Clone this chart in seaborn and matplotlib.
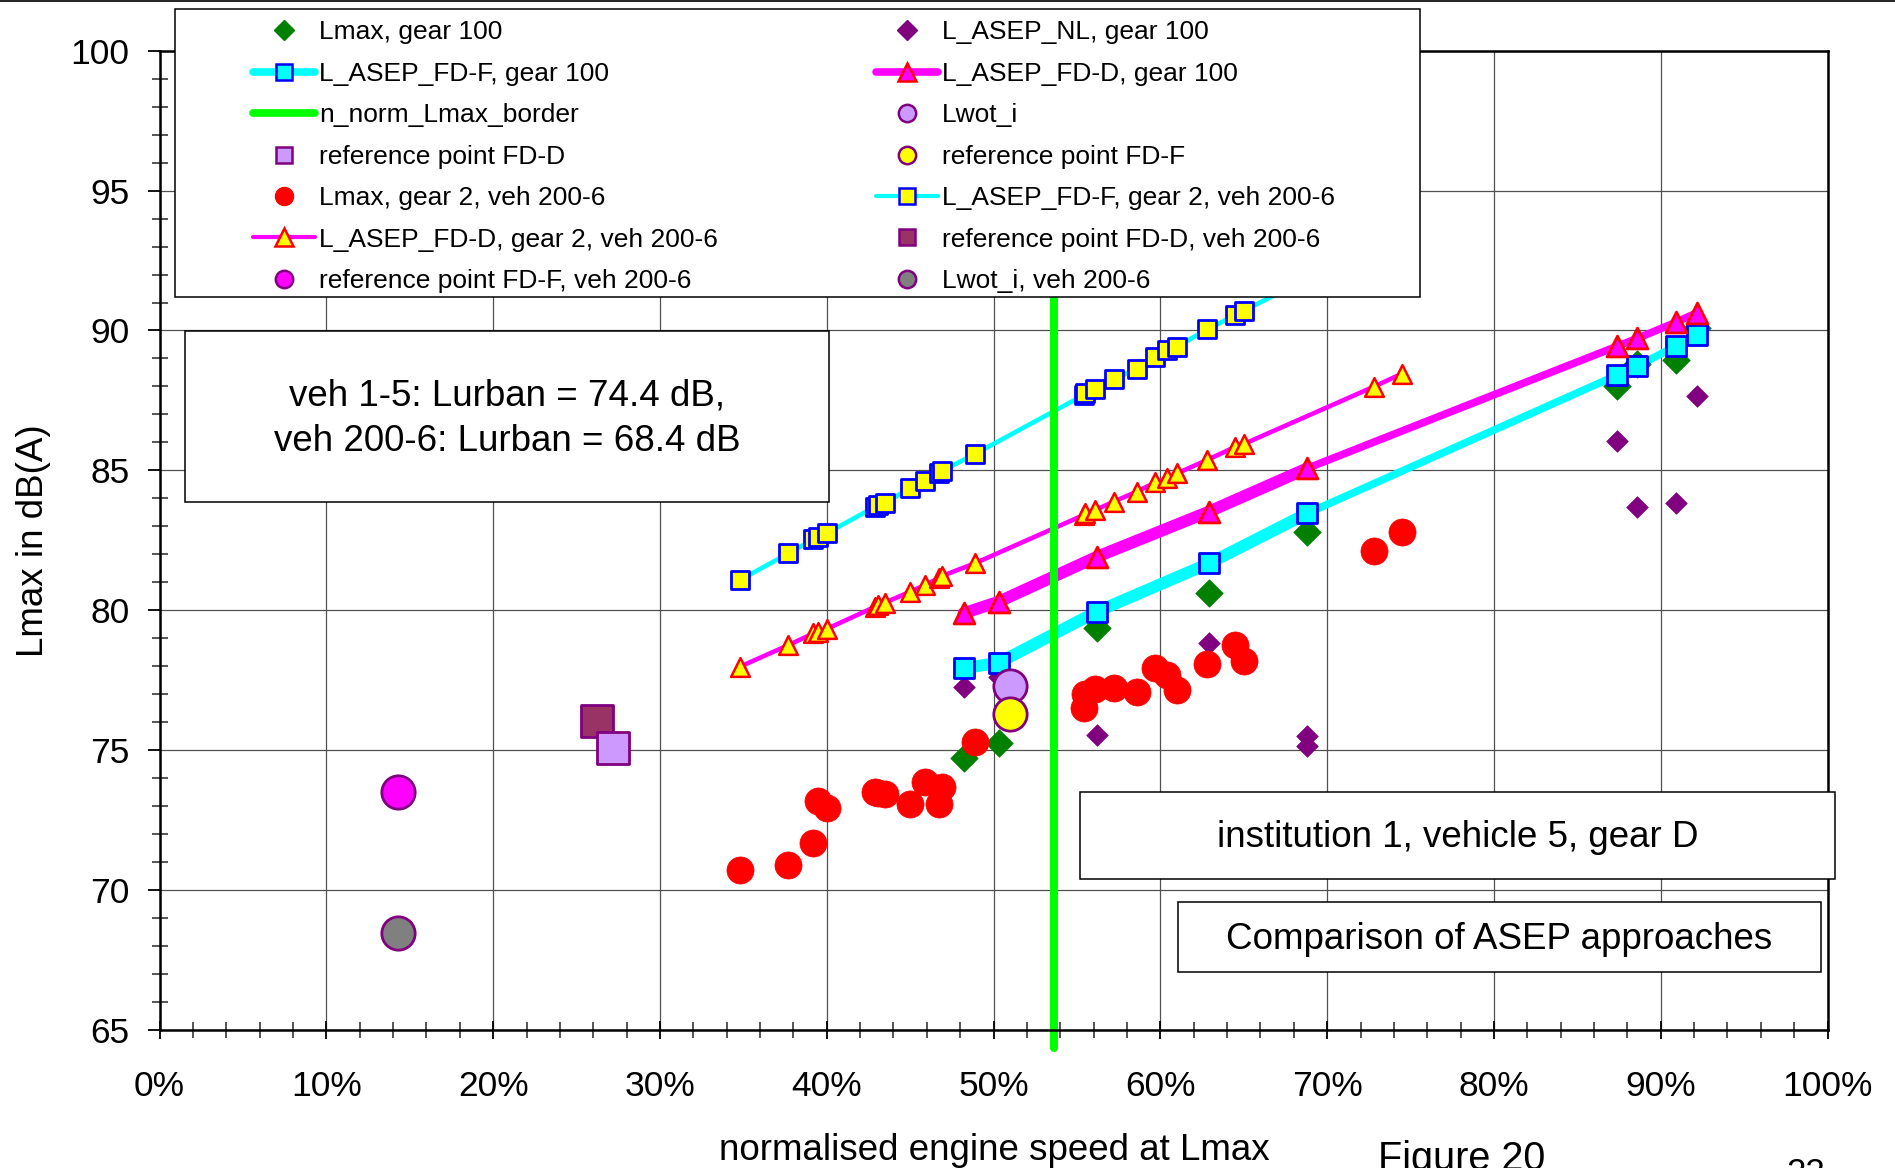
import matplotlib
matplotlib.use("Agg")
import matplotlib.pyplot as plt
import seaborn as sns
from matplotlib.lines import Line2D
from matplotlib.patches import Rectangle
from matplotlib.ticker import MultipleLocator, FuncFormatter

# ---------------- data ----------------
gear100_x = [48.2, 50.3, 56.2, 62.9, 68.8, 87.4, 88.6, 90.9, 92.2]
lmax_gear100 = [74.70, 75.25, 79.35, 80.60, 82.80, 88.00, 88.80, 88.95, 90.10]
asep_fdf_gear100 = [77.92, 78.12, 79.95, 81.67, 83.46, 88.41, 88.73, 89.44, 89.84]
asep_fdd_gear100 = [79.89, 80.30, 81.91, 83.52, 85.07, 89.44, 89.72, 90.29, 90.64]

nl_x = [48.2, 50.3, 56.2, 62.9, 68.8, 68.8, 87.4, 88.6, 90.9, 92.2]
asep_nl_gear100 = [77.26, 77.62, 75.54, 78.81, 75.50, 75.15, 86.06, 83.70, 83.82, 87.66]

n_norm_lmax_border = 53.6

lwot_i = (51.0, 77.29)
ref_fdd = (27.2, 75.09)
ref_fdf = (51.0, 76.29)

veh200_x = [34.8, 37.7, 39.2, 39.5, 40.0, 42.9, 43.1, 43.5, 45.0, 45.9, 46.7, 46.9, 48.9,
            55.4, 55.5, 56.1, 57.2, 58.6, 59.7, 60.4, 61.0, 62.8, 64.5, 65.0, 72.8, 74.5]
lmax_veh200 = [70.70, 70.88, 71.66, 73.17, 72.91, 73.51, 73.45, 73.42, 73.08, 73.86, 73.08, 73.68, 75.28,
               76.49, 77.01, 77.18, 77.23, 77.06, 77.92, 77.70, 77.14, 78.09, 78.74, 78.18, 82.11, 82.80]
asep_fdf_veh200 = [81.08, 82.03, 82.53, 82.63, 82.75, 83.70, 83.75, 83.84, 84.36, 84.63, 84.89, 84.97, 85.59,
                   87.69, 87.75, 87.90, 88.25, 88.64, 89.04, 89.30, 89.42, 90.04, 90.55, 90.70, 93.10, 93.60]
asep_fdd_veh200 = [77.98, 78.75, 79.17, 79.23, 79.33, 80.12, 80.18, 80.27, 80.66, 80.90, 81.14, 81.22, 81.68,
                   83.40, 83.46, 83.58, 83.88, 84.24, 84.57, 84.71, 84.89, 85.37, 85.84, 85.94, 87.99, 88.46]

ref_fdd_veh200 = (26.2, 76.05)
ref_fdf_veh200 = (14.3, 73.49)
lwot_i_veh200 = (14.3, 68.47)

legend_labels = [
    "Lmax, gear 100", "L_ASEP_NL, gear 100",
    "L_ASEP_FD-F, gear 100", "L_ASEP_FD-D, gear 100",
    "n_norm_Lmax_border", "Lwot_i",
    "reference point FD-D", "reference point FD-F",
    "Lmax, gear 2, veh 200-6", "L_ASEP_FD-F, gear 2, veh 200-6",
    "L_ASEP_FD-D, gear 2, veh 200-6", "reference point FD-D, veh 200-6",
    "reference point FD-F, veh 200-6", "Lwot_i, veh 200-6",
]

x_ticks = list(range(0, 101, 10))
y_ticks = list(range(65, 101, 5))

# ---------------- style ----------------
sns.set_theme(style="ticks")
plt.rcParams['font.family'] = ['Liberation Sans', 'DejaVu Sans']

CYAN, MAGENTA, BLUE, RED = '#00FFFF', '#FF00FF', '#0000FF', '#FF0000'
YELLOW, GREEN, PURPLE = '#FFFF00', '#008000', '#800080'
LAVENDER, MAROON, GRAY, LIME = '#CC99FF', '#993366', '#808080', '#00FF00'

fig = plt.figure(figsize=(18.95, 11.68), dpi=100)
ax = fig.add_axes([0.0842, 0.1184, 0.8802, 0.8381])

# lines
sns.lineplot(x=gear100_x[:5], y=asep_fdf_gear100[:5], ax=ax, color=CYAN, linewidth=8.6,
             sort=False, estimator=None, errorbar=None, legend=False, zorder=2)
sns.lineplot(x=gear100_x[4:], y=asep_fdf_gear100[4:], ax=ax, color=CYAN, linewidth=5.5,
             sort=False, estimator=None, errorbar=None, legend=False, zorder=2)
sns.lineplot(x=gear100_x[:5], y=asep_fdd_gear100[:5], ax=ax, color=MAGENTA, linewidth=8.6,
             sort=False, estimator=None, errorbar=None, legend=False, zorder=2)
sns.lineplot(x=gear100_x[4:], y=asep_fdd_gear100[4:], ax=ax, color=MAGENTA, linewidth=5.5,
             sort=False, estimator=None, errorbar=None, legend=False, zorder=2)
sns.lineplot(x=veh200_x, y=asep_fdf_veh200, ax=ax, color=CYAN, linewidth=3.3,
             sort=False, estimator=None, errorbar=None, legend=False, zorder=2)
sns.lineplot(x=veh200_x, y=asep_fdd_veh200, ax=ax, color=MAGENTA, linewidth=3.3,
             sort=False, estimator=None, errorbar=None, legend=False, zorder=2)

ax.axvline(n_norm_lmax_border, ymin=-0.0187, ymax=1, color=LIME, lw=5.8, clip_on=False, zorder=2.5)

def pts(x, y, marker, ms, fc, ec, ew, z):
    sns.scatterplot(x=x, y=y, ax=ax, marker=marker, s=ms ** 2, color=fc, edgecolor=ec,
                    linewidth=ew, legend=False, zorder=z, clip_on=False)

pts(gear100_x, lmax_gear100, 'D', 14, GREEN, GREEN, 0.5, 3.0)
pts(nl_x, asep_nl_gear100, 'D', 11, PURPLE, PURPLE, 0.5, 3.1)
pts(gear100_x, asep_fdf_gear100, 's', 14.5, CYAN, BLUE, 2.0, 3.2)
pts(gear100_x, asep_fdd_gear100, '^', 15, MAGENTA, RED, 2.0, 3.3)
pts([lwot_i[0]], [lwot_i[1]], 'o', 24, LAVENDER, PURPLE, 2.0, 3.4)
pts([ref_fdd_veh200[0]], [ref_fdd_veh200[1]], 's', 23, MAROON, PURPLE, 2.0, 3.45)
pts([ref_fdd[0]], [ref_fdd[1]], 's', 23, LAVENDER, PURPLE, 2.0, 3.5)
pts([ref_fdf[0]], [ref_fdf[1]], 'o', 24, YELLOW, PURPLE, 2.0, 3.6)
pts(veh200_x, lmax_veh200, 'o', 19.5, RED, RED, 0.5, 3.7)
pts(veh200_x, asep_fdf_veh200, 's', 13, YELLOW, BLUE, 2.0, 3.8)
pts(veh200_x, asep_fdd_veh200, '^', 13.5, YELLOW, RED, 1.8, 3.9)
pts([ref_fdf_veh200[0]], [ref_fdf_veh200[1]], 'o', 24, MAGENTA, PURPLE, 2.0, 4.0)
pts([lwot_i_veh200[0]], [lwot_i_veh200[1]], 'o', 24, GRAY, PURPLE, 2.0, 4.1)

# axes
ax.set_xlim(0, 100)
ax.set_ylim(65, 100)
ax.set_xticks(x_ticks)
ax.set_yticks(y_ticks)
ax.xaxis.set_minor_locator(MultipleLocator(2))
ax.yaxis.set_minor_locator(MultipleLocator(1))
ax.xaxis.set_major_formatter(FuncFormatter(lambda v, p: f"{v:.0f}%"))
ax.set_axisbelow(True)
ax.grid(True, which='major', color='#505050', lw=0.9)
ax.grid(False, which='minor')
for s in ax.spines.values():
    s.set_visible(True)
    s.set_color('black')
    s.set_linewidth(1.8)
ax.set_facecolor('white')

ax.tick_params(axis='x', which='major', direction='inout', length=13, width=1.3, pad=22.5,
               labelsize=25.5, colors='black', bottom=True, top=False)
ax.tick_params(axis='x', which='minor', direction='inout', length=12, width=1.1, bottom=True, top=False)
ax.tick_params(axis='y', which='major', direction='out', length=8.6, width=1.3, pad=13,
               labelsize=25.5, colors='black', left=True, right=False)
ax.tick_params(axis='y', which='minor', direction='inout', length=11.5, width=1.1, left=True, right=False)

ax.set_xlabel("normalised engine speed at Lmax", fontsize=26.5, color='black')
ax.set_ylabel("Lmax in dB(A)", fontsize=26.5, color='black')
ax.xaxis.set_label_coords(0.5007, -0.1052)
ax.yaxis.set_label_coords(-0.0652, 0.5)

# text boxes (figure coordinates)
def box(x0, y0, w, h, text, fs, ls=1.2, dy=0.0):
    fig.add_artist(Rectangle((x0, y0), w, h, transform=fig.transFigure, facecolor='white',
                             edgecolor='black', lw=1.1, zorder=4))
    fig.text(x0 + w / 2, y0 + h / 2 + dy, text, ha='center', va='center', fontsize=fs,
             linespacing=ls, zorder=4.5, color='black')

box(0.0974, 0.5702, 0.3401, 0.1464,
    "veh 1-5: Lurban = 74.4 dB,\nveh 200-6: Lurban = 68.4 dB", 26.5, ls=1.36, dy=-0.002)
box(0.5699, 0.2474, 0.3984, 0.0747, "institution 1, vehicle 5, gear D", 26.5, dy=-0.002)
box(0.6215, 0.1681, 0.3393, 0.0594, "Comparison of ASEP approaches", 26.5, dy=-0.0025)

# legend
handles = [
    Line2D([], [], ls='none', marker='D', ms=10.5, mfc=GREEN, mec=GREEN),
    Line2D([], [], ls='none', marker='D', ms=10.5, mfc=PURPLE, mec=PURPLE),
    Line2D([], [], color=CYAN, lw=5.5, marker='s', ms=11.5, mfc=CYAN, mec=BLUE, mew=1.8),
    Line2D([], [], color=MAGENTA, lw=5.5, marker='^', ms=13, mfc=MAGENTA, mec=RED, mew=1.8),
    Line2D([], [], color=LIME, lw=5.5),
    Line2D([], [], ls='none', marker='o', ms=12.5, mfc=LAVENDER, mec=PURPLE, mew=1.8),
    Line2D([], [], ls='none', marker='s', ms=11.5, mfc=LAVENDER, mec=PURPLE, mew=1.8),
    Line2D([], [], ls='none', marker='o', ms=12.5, mfc=YELLOW, mec=PURPLE, mew=1.8),
    Line2D([], [], ls='none', marker='o', ms=13, mfc=RED, mec=RED),
    Line2D([], [], color=CYAN, lw=3, marker='s', ms=11.5, mfc=YELLOW, mec=BLUE, mew=1.8),
    Line2D([], [], color=MAGENTA, lw=3, marker='^', ms=13, mfc=YELLOW, mec=RED, mew=1.8),
    Line2D([], [], ls='none', marker='s', ms=11.5, mfc=MAROON, mec=PURPLE, mew=1.8),
    Line2D([], [], ls='none', marker='o', ms=12.5, mfc=MAGENTA, mec=PURPLE, mew=1.8),
    Line2D([], [], ls='none', marker='o', ms=12.5, mfc=GRAY, mec=PURPLE, mew=1.8),
]
order = [0, 2, 4, 6, 8, 10, 12, 1, 3, 5, 7, 9, 11, 13]
fig.add_artist(Rectangle((0.0921, 0.7457), 0.6573, 0.2463, transform=fig.transFigure,
                         facecolor='white', edgecolor='black', lw=1.1, zorder=4))
leg = fig.legend([handles[i] for i in order], [legend_labels[i] for i in order], ncol=2,
                 loc='upper left', bbox_to_anchor=(253 / 1895, 1 - 20.5 / 1168),
                 bbox_transform=fig.transFigure, fontsize=19, frameon=False,
                 handlelength=2.35, handletextpad=0.15, columnspacing=6.0,
                 labelspacing=0.66, borderpad=0, borderaxespad=0, numpoints=1)
leg.set_zorder(5)
for t in leg.get_texts():
    t.set_color('black')

# page elements
fig.add_artist(Line2D([0, 1], [0.9993, 0.9993], transform=fig.transFigure, color='black', lw=1.2))
fig.text(0.7272, -0.0017, "Figure 20", fontsize=28.5, va='baseline', ha='left', color='black')
fig.text(0.9425, -0.0128, "22", fontsize=25, va='baseline', ha='left', color='black')

fig.savefig("out.png", dpi=100, facecolor='white')
